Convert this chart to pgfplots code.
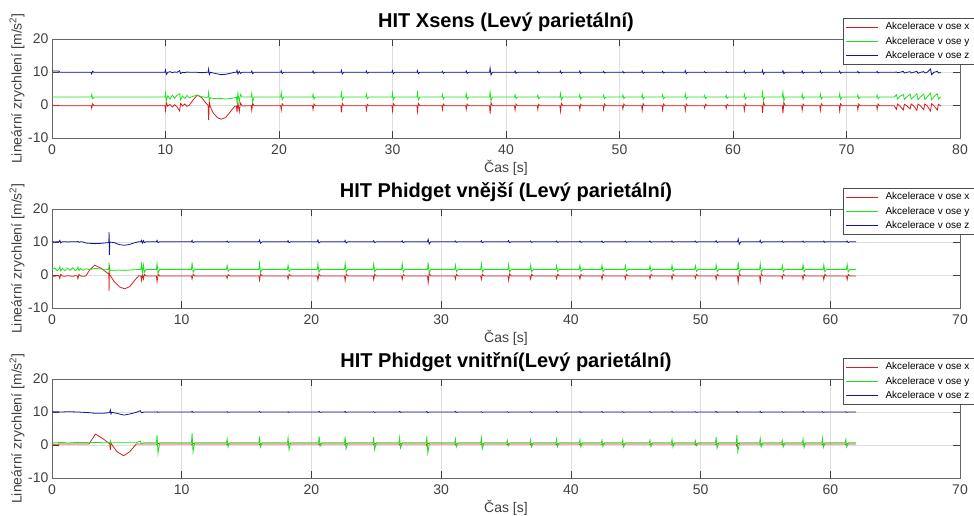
\documentclass[border=0pt]{standalone}
\usepackage{pgfplots}
\usepackage{pgfplotstable}
\pgfplotsset{compat=1.18}
\usepackage{fontspec}
\setmainfont{Liberation Sans}

\definecolor{mred}{RGB}{215,30,30}
\definecolor{mgreen}{RGB}{30,225,30}
\definecolor{mblue}{RGB}{20,20,150}

% HIT Xsens
\pgfplotstableread{
t x y z
0.0 -0.1 2.4 10.3
0.6 -0.2 2.4 10.3
0.7 -0.2 2.4 9.9
3.45 -0.2 2.4 9.9
3.5 -1.0 3.2 9.4
3.58 0.4 1.9 10.2
3.7 -0.2 2.4 9.9
9.95 -0.2 2.4 9.9
10.0 -1.6 3.6 10.6
10.08 0.6 1.4 9.3
10.2 -0.4 2.8 9.9
10.4 0.2 1.8 10.1
10.6 -0.6 3.0 9.8
10.8 0.1 2.0 10.0
11.0 -0.5 2.9 9.9
11.25 -1.8 3.4 10.4
11.33 0.5 1.6 9.5
11.5 -0.3 2.7 9.9
11.7 0.3 2.0 9.8
11.9 -0.4 2.9 10.0
12.1 -0.1 2.2 9.9
12.4 1.4 2.6 9.9
12.8 3.0 3.0 9.9
13.2 2.2 2.5 9.8
13.6 0.4 2.3 9.9
13.75 0.0 2.4 9.9
13.8 -4.6 3.8 10.9
13.86 1.0 1.6 9.2
13.95 -0.5 2.2 9.9
14.2 -2.4 2.0 9.7
14.6 -3.9 1.9 9.4
14.9 -4.3 2.0 9.2
15.3 -3.8 1.8 9.3
15.7 -2.1 2.0 9.6
16.1 -0.4 2.2 9.9
16.25 -0.3 2.4 9.9
16.3 -2.2 0.8 10.5
16.38 0.8 3.5 9.4
16.5 -2.0 1.0 10.2
16.6 0.6 3.2 9.6
16.75 -0.3 2.4 9.9
17.55 -0.2 2.4 9.9
17.6 -1.6 3.5 10.3
17.68 0.5 0.9 9.5
17.8 -0.2 2.4 9.9
20.15 -0.2 2.4 9.9
20.2 -1.5 3.8 10.4
20.28 0.4 1.6 9.5
20.4 -0.2 2.4 9.9
22.95 -0.2 2.4 9.9
23.0 -1.4 3.2 10.3
23.08 0.3 1.8 9.6
23.2 -0.2 2.4 9.9
25.45 -0.2 2.4 9.9
25.5 -2.2 3.6 10.5
25.58 0.5 1.5 9.4
25.7 -0.2 2.4 9.9
27.65 -0.2 2.4 9.9
27.7 -1.5 3.3 10.3
27.78 0.2 1.9 9.6
27.9 -0.2 2.4 9.9
29.95 -0.2 2.4 9.9
30.0 -1.8 3.6 10.4
30.08 0.4 1.6 9.5
30.2 -0.2 2.4 9.9
32.15 -0.2 2.4 9.9
32.2 -2.0 3.7 10.4
32.28 0.5 1.5 9.5
32.4 -0.2 2.4 9.9
34.35 -0.2 2.4 9.9
34.4 -1.4 3.2 10.2
34.48 0.3 1.8 9.6
34.6 -0.2 2.4 9.9
36.45 -0.2 2.4 9.9
36.5 -1.3 3.4 10.3
36.58 0.3 1.7 9.6
36.7 -0.2 2.4 9.9
38.55 -0.2 2.4 9.9
38.6 -2.6 3.9 11.2
38.68 0.7 1.3 9.1
38.8 -0.2 2.4 9.9
40.75 -0.2 2.4 9.9
40.8 -1.5 3.1 10.3
40.88 0.3 1.9 9.6
41.0 -0.2 2.4 9.9
42.75 -0.2 2.4 9.9
42.8 -1.3 3.0 10.2
42.88 0.2 1.9 9.7
43.0 -0.2 2.4 9.9
44.75 -0.2 2.4 9.9
44.8 -1.9 3.5 10.3
44.88 0.5 1.5 9.6
45.0 -0.2 2.4 9.9
46.45 -0.2 2.4 9.9
46.5 -1.4 3.1 10.3
46.58 0.2 1.8 9.6
46.7 -0.2 2.4 9.9
48.55 -0.2 2.4 9.9
48.6 -1.3 3.0 10.2
48.68 0.3 1.9 9.7
48.8 -0.2 2.4 9.9
50.25 -0.2 2.4 9.9
50.3 -1.2 3.0 10.2
50.38 0.3 2.0 9.7
50.5 -0.2 2.4 9.9
51.95 -0.2 2.4 9.9
52.0 -1.6 3.2 10.3
52.08 0.4 1.8 9.6
52.2 -0.2 2.4 9.9
53.75 -0.2 2.4 9.9
53.8 -1.5 3.1 10.2
53.88 0.3 1.9 9.7
54.0 -0.2 2.4 9.9
55.75 -0.2 2.4 9.9
55.8 -1.6 3.3 10.4
55.88 0.3 1.8 9.5
56.0 -0.2 2.4 9.9
57.45 -0.2 2.4 9.9
57.5 -0.9 2.9 10.1
57.58 0.2 2.0 9.8
57.7 -0.2 2.4 9.9
59.35 -0.2 2.4 9.9
59.4 -1.0 2.9 10.1
59.48 0.2 2.0 9.8
59.6 -0.2 2.4 9.9
60.95 -0.2 2.4 9.9
61.0 -1.6 3.2 10.3
61.08 0.3 1.8 9.6
61.2 -0.2 2.4 9.9
62.55 -0.2 2.4 9.9
62.6 -2.4 3.8 10.5
62.68 0.8 1.3 9.4
62.8 -0.2 2.4 9.9
64.35 -0.2 2.4 9.9
64.4 -2.5 3.9 10.4
64.48 0.7 1.2 9.5
64.6 -0.2 2.4 9.9
66.05 -0.2 2.4 9.9
66.1 -1.5 3.2 10.3
66.18 0.3 1.8 9.6
66.3 -0.2 2.4 9.9
67.65 -0.2 2.4 9.9
67.7 -1.6 3.3 10.3
67.78 0.4 1.8 9.6
67.9 -0.2 2.4 9.9
69.35 -0.2 2.4 9.9
69.4 -1.8 3.4 10.3
69.48 0.4 1.7 9.6
69.6 -0.2 2.4 9.9
70.95 -0.2 2.4 9.9
71.0 -1.4 3.1 10.2
71.08 0.3 1.9 9.7
71.2 -0.2 2.4 9.9
72.65 -0.2 2.4 9.9
72.7 -1.3 3.0 10.2
72.78 0.3 1.9 9.7
72.9 -0.2 2.4 9.9
74.2 -0.2 2.4 9.9
74.4 -1.3 3.1 10.0
74.5 0.3 1.8 9.8
74.7 -0.3 2.6 9.9
75.0 -1.5 3.2 10.2
75.1 0.2 1.7 9.7
75.3 -0.2 2.4 9.9
75.6 -1.2 3.3 10.1
75.7 0.3 1.8 9.7
75.9 -0.2 2.4 9.9
76.2 -1.6 3.4 10.2
76.3 0.3 1.6 9.6
76.5 -0.2 2.4 9.9
76.8 -1.4 3.3 10.1
76.9 0.3 1.7 9.7
77.1 -0.2 2.4 9.9
77.4 -1.8 3.6 10.9
77.5 0.4 1.6 9.2
77.7 -0.2 2.5 9.9
78.0 -1.5 3.4 10.2
78.1 0.2 1.8 9.7
78.3 -0.3 2.5 9.9
}\dataA

% HIT Phidget vnejsi
\pgfplotstableread{
t x y z
0.0 -0.3 1.7 10.1
0.2 -0.4 2.1 10.0
0.4 -0.2 1.3 10.1
0.55 -0.3 1.8 10.1
0.6 -1.0 2.5 10.5
0.68 0.2 1.2 9.7
0.8 -0.3 2.0 10.1
1.0 -0.4 1.3 10.1
1.2 -0.2 2.1 10.0
1.4 -0.3 1.4 10.1
1.6 -0.4 2.2 10.1
1.8 -0.2 1.3 10.1
1.95 -0.3 1.8 10.1
2.0 -1.1 2.4 10.2
2.08 0.2 1.3 9.9
2.2 -0.3 2.0 10.1
2.4 -0.4 1.4 10.0
2.6 -0.3 1.9 9.7
2.9 1.5 1.6 9.6
3.3 3.0 2.0 9.5
3.8 2.0 1.8 9.6
4.3 0.5 1.7 9.8
4.38 0.6 1.7 9.9
4.4 -4.9 3.8 13.0
4.42 3.0 0.5 6.0
4.46 0.0 1.5 10.0
4.8 -2.0 1.4 9.8
5.2 -3.6 1.5 9.2
5.6 -4.2 1.4 9.0
6.0 -3.5 1.5 9.3
6.4 -1.5 1.6 9.8
6.7 -0.2 1.7 10.1
6.85 -0.3 1.7 10.1
6.9 -1.6 3.3 10.5
6.97 0.3 0.6 9.7
7.05 -1.2 3.0 10.4
7.12 0.2 0.8 9.8
7.25 -0.3 1.7 10.1
8.05 -0.3 1.7 10.1
8.1 -2.0 3.4 10.5
8.18 0.2 0.5 9.8
8.3 -0.3 1.7 10.1
10.75 -0.3 1.7 10.1
10.8 -1.2 3.8 10.5
10.88 0.2 0.8 9.8
11.0 -0.3 1.7 10.1
13.45 -0.3 1.7 10.1
13.5 -1.0 2.9 10.3
13.58 0.1 1.1 9.9
13.7 -0.3 1.7 10.1
15.95 -0.3 1.7 10.1
16.0 -1.6 3.5 10.6
16.08 0.3 0.7 9.6
16.2 -0.3 1.7 10.1
18.15 -0.3 1.7 10.1
18.2 -1.2 3.0 10.4
18.28 0.2 1.0 9.8
18.4 -0.3 1.7 10.1
20.45 -0.3 1.7 10.1
20.5 -1.5 3.4 10.6
20.58 0.3 0.8 9.7
20.7 -0.3 1.7 10.1
22.55 -0.3 1.7 10.1
22.6 -1.7 3.5 10.5
22.68 0.3 0.8 9.7
22.8 -0.3 1.7 10.1
24.75 -0.3 1.7 10.1
24.8 -1.4 3.3 10.4
24.88 0.2 1.0 9.8
25.0 -0.3 1.7 10.1
26.95 -0.3 1.7 10.1
27.0 -1.3 3.4 10.4
27.08 0.2 0.9 9.8
27.2 -0.3 1.7 10.1
28.95 -0.3 1.7 10.1
29.0 -2.3 3.8 10.8
29.08 0.5 0.6 9.4
29.2 -0.3 1.7 10.1
31.05 -0.3 1.7 10.1
31.1 -1.2 3.0 10.3
31.18 0.2 1.0 9.9
31.3 -0.3 1.7 10.1
33.05 -0.3 1.7 10.1
33.1 -1.3 3.4 10.4
33.18 0.2 0.9 9.8
33.3 -0.3 1.7 10.1
35.15 -0.3 1.7 10.1
35.2 -1.6 3.2 10.4
35.28 0.3 0.9 9.8
35.4 -0.3 1.7 10.1
36.85 -0.3 1.7 10.1
36.9 -1.2 3.0 10.3
36.98 0.2 1.0 9.9
37.1 -0.3 1.7 10.1
38.85 -0.3 1.7 10.1
38.9 -1.1 2.9 10.3
38.98 0.2 1.1 9.9
39.1 -0.3 1.7 10.1
40.65 -0.3 1.7 10.1
40.7 -1.2 2.9 10.3
40.78 0.2 1.1 9.9
40.9 -0.3 1.7 10.1
42.35 -0.3 1.7 10.1
42.4 -1.3 3.0 10.3
42.48 0.2 1.0 9.8
42.6 -0.3 1.7 10.1
44.15 -0.3 1.7 10.1
44.2 -1.2 2.9 10.3
44.28 0.2 1.1 9.9
44.4 -0.3 1.7 10.1
46.05 -0.3 1.7 10.1
46.1 -1.1 2.8 10.3
46.18 0.2 1.1 9.9
46.3 -0.3 1.7 10.1
47.75 -0.3 1.7 10.1
47.8 -1.3 3.0 10.3
47.88 0.2 1.0 9.9
48.0 -0.3 1.7 10.1
49.55 -0.3 1.7 10.1
49.6 -1.0 2.8 10.3
49.68 0.2 1.1 9.9
49.8 -0.3 1.7 10.1
51.15 -0.3 1.7 10.1
51.2 -1.3 3.1 10.4
51.28 0.2 1.0 9.8
51.4 -0.3 1.7 10.1
52.85 -0.3 1.7 10.1
52.9 -2.2 3.9 10.9
52.98 0.4 0.6 9.3
53.1 -0.3 1.7 10.1
54.55 -0.3 1.7 10.1
54.6 -2.0 3.4 10.5
54.68 0.4 0.8 9.7
54.8 -0.3 1.7 10.1
56.25 -0.3 1.7 10.1
56.3 -1.1 2.9 10.3
56.38 0.2 1.0 9.9
56.5 -0.3 1.7 10.1
57.85 -0.3 1.7 10.1
57.9 -1.3 3.2 10.3
57.98 0.2 1.0 9.9
58.1 -0.3 1.7 10.1
59.45 -0.3 1.7 10.1
59.5 -1.4 3.1 10.3
59.58 0.2 1.0 9.9
59.7 -0.3 1.7 10.1
61.25 -0.3 1.7 10.1
61.3 -1.4 3.2 10.3
61.38 0.2 0.9 9.8
61.5 -0.3 1.7 10.1
62.0 -0.3 1.7 10.1
}\dataB

% HIT Phidget vnitrni
\pgfplotstableread{
t x y z
0.0 0.2 0.6 10.1
0.8 0.3 0.8 10.0
1.2 0.3 0.6 10.1
2.0 0.3 0.8 10.0
2.85 0.3 0.7 9.8
3.35 3.3 0.8 9.6
3.9 2.0 0.7 9.6
4.4 0.5 0.7 9.8
4.45 0.5 0.7 9.9
4.5 -1.5 1.3 10.6
4.55 0.6 0.3 9.4
4.6 0.2 0.7 9.9
5.0 -2.0 0.7 9.6
5.5 -3.2 0.7 9.1
5.6 -3.1 0.7 9.1
6.0 -2.0 0.7 9.4
6.5 0.3 0.7 9.9
6.8 0.3 1.2 10.4
6.9 0.3 0.4 9.8
7.1 0.3 0.7 10.0
8.05 0.3 0.7 10.0
8.1 0.1 3.0 10.1
8.17 0.5 -2.5 9.9
8.3 0.3 0.7 10.0
10.75 0.3 0.7 10.0
10.8 0.0 3.6 10.2
10.87 0.5 -2.0 9.9
11.0 0.3 0.7 10.0
13.45 0.3 0.7 10.0
13.5 0.1 1.8 10.1
13.57 0.4 -0.6 9.9
13.7 0.3 0.7 10.0
15.95 0.3 0.7 10.0
16.0 0.1 2.5 10.2
16.07 0.4 -0.6 9.9
16.2 0.3 0.7 10.0
18.15 0.3 0.7 10.0
18.2 0.1 2.2 10.1
18.27 0.4 -1.4 9.9
18.4 0.3 0.7 10.0
20.55 0.3 0.7 10.0
20.6 0.1 2.6 10.2
20.67 0.4 -0.4 9.9
20.8 0.3 0.7 10.0
22.55 0.3 0.7 10.0
22.6 0.0 2.5 10.2
22.67 0.5 -1.2 9.9
22.8 0.3 0.7 10.0
24.75 0.3 0.7 10.0
24.8 0.1 2.4 10.1
24.87 0.5 -1.4 9.9
25.0 0.3 0.7 10.0
26.75 0.3 0.7 10.0
26.8 0.1 2.2 10.2
26.87 0.5 -0.9 9.9
27.0 0.3 0.7 10.0
28.85 0.3 0.7 10.0
28.9 -0.2 2.6 10.2
28.97 0.6 -2.4 9.8
29.1 0.3 0.7 10.0
31.05 0.3 0.7 10.0
31.1 0.1 1.8 10.2
31.17 0.4 -0.6 9.9
31.3 0.3 0.7 10.0
33.05 0.3 0.7 10.0
33.1 0.1 2.2 10.1
33.17 0.4 -1.2 9.9
33.3 0.3 0.7 10.0
35.05 0.3 0.7 10.0
35.1 0.1 1.4 10.1
35.17 0.4 -0.3 9.9
35.3 0.3 0.7 10.0
36.85 0.3 0.7 10.0
36.9 0.1 1.6 10.1
36.97 0.4 -0.6 9.9
37.1 0.3 0.7 10.0
38.85 0.3 0.7 10.0
38.9 0.1 1.8 10.2
38.97 0.4 -0.5 9.9
39.1 0.3 0.7 10.0
40.65 0.3 0.7 10.0
40.7 0.1 1.6 10.1
40.77 0.4 -0.6 9.9
40.9 0.3 0.7 10.0
42.35 0.3 0.7 10.0
42.4 0.1 1.5 10.2
42.47 0.4 -0.4 9.9
42.6 0.3 0.7 10.0
43.95 0.3 0.7 10.0
44.0 0.1 1.6 10.1
44.07 0.4 -0.6 9.9
44.2 0.3 0.7 10.0
46.05 0.3 0.7 10.0
46.1 0.1 1.5 10.1
46.17 0.4 -0.5 9.9
46.3 0.3 0.7 10.0
47.75 0.3 0.7 10.0
47.8 0.1 1.7 10.2
47.87 0.4 -0.6 9.9
48.0 0.3 0.7 10.0
49.55 0.3 0.7 10.0
49.6 0.1 1.3 10.1
49.67 0.4 -0.3 9.9
49.8 0.3 0.7 10.0
51.15 0.3 0.7 10.0
51.2 0.1 2.4 10.2
51.27 0.4 -1.0 9.9
51.4 0.3 0.7 10.0
52.75 0.3 0.7 10.0
52.8 -0.3 3.0 10.2
52.87 0.6 -2.0 9.9
53.0 0.3 0.7 10.0
54.55 0.3 0.7 10.0
54.6 0.1 2.0 10.2
54.67 0.4 -0.6 9.8
54.8 0.3 0.7 10.0
56.25 0.3 0.7 10.0
56.3 0.1 1.4 10.1
56.37 0.4 -0.6 9.9
56.5 0.3 0.7 10.0
57.85 0.3 0.7 10.0
57.9 0.1 1.8 10.2
57.97 0.4 -0.8 9.9
58.1 0.3 0.7 10.0
59.35 0.3 0.7 10.0
59.4 0.1 2.1 10.1
59.47 0.4 -0.7 9.9
59.6 0.3 0.7 10.0
61.15 0.3 0.7 10.0
61.2 0.1 1.7 10.1
61.27 0.4 -0.6 9.9
61.4 0.3 0.7 10.0
62.0 0.3 0.7 10.0
}\dataC

\pgfplotsset{
  panel/.style={
    scale only axis, width=908pt, height=99pt,
    xmin=0, ymin=-10, ymax=20, ytick={-10,0,10,20},
    xtick distance=10,
    grid=major, major grid style={black!13, line width=0.5pt},
    axis line style={black!60, line width=0.6pt},
    tick align=inside, major tick length=7pt,
    tick style={black!75, line width=0.6pt},
    ticklabel style={font=\fontsize{14}{16}\selectfont, text=black!75},
    xticklabel style={yshift=-3pt},
    /pgf/number format/assume math mode=true,
    xlabel={Čas [s]},
    ylabel={Lineární zrychlení [m/s\textsuperscript{2}]},
    every axis title/.style={at={(axis description cs:0.5,1)}, anchor=center, yshift=17pt,
      font=\fontsize{20}{22}\selectfont\bfseries},
    every axis x label/.style={at={(axis description cs:0.5,0)}, anchor=center, yshift=-30pt,
      font=\fontsize{14}{16}\selectfont, text=black!75},
    every axis y label/.style={at={(axis description cs:-0.0385,0.5)}, anchor=center, rotate=90,
      font=\fontsize{14}{16}\selectfont, text=black!75},
    legend style={at={(axis description cs:0.871,1.212)}, anchor=north west,
      draw=black!70, fill=white,
      font=\fontsize{10}{12}\selectfont, inner xsep=3pt, inner ysep=3pt,
      row sep=2.5pt, nodes={inner sep=1.5pt}},
    legend cell align=left,
  },
  sig/.style={line width=0.8pt, draw=#1,
    legend image code/.code={\fill[fill=#1, draw=none] (0pt,-0.5pt) rectangle (32pt,0.5pt);
      \path[draw=none] (38pt,0pt);}},
}

\begin{document}
\begin{tikzpicture}
\useasboundingbox (0,0) rectangle (974pt,515pt);
\clip (0,0) rectangle (974pt,515pt);

\begin{axis}[panel, at={(52pt,377pt)}, anchor=south west, xmax=80,
  title={HIT Xsens (Levý parietální)}]
\addplot[sig=mred] table[x=t, y=x] {\dataA};
\addplot[sig=mgreen] table[x=t, y=y] {\dataA};
\addplot[sig=mblue] table[x=t, y=z] {\dataA};
\legend{Akcelerace v ose x, Akcelerace v ose y, Akcelerace v ose z}
\end{axis}

\begin{axis}[panel, at={(52pt,207pt)}, anchor=south west, xmax=70,
  title={HIT Phidget vnější (Levý parietální)}]
\addplot[sig=mred] table[x=t, y=x] {\dataB};
\addplot[sig=mgreen] table[x=t, y=y] {\dataB};
\addplot[sig=mblue] table[x=t, y=z] {\dataB};
\legend{Akcelerace v ose x, Akcelerace v ose y, Akcelerace v ose z}
\end{axis}

\begin{axis}[panel, at={(52pt,37pt)}, anchor=south west, xmax=70,
  title={HIT Phidget vnitřní(Levý parietální)}]
\addplot[sig=mred] table[x=t, y=x] {\dataC};
\addplot[sig=mgreen] table[x=t, y=y] {\dataC};
\addplot[sig=mblue] table[x=t, y=z] {\dataC};
\legend{Akcelerace v ose x, Akcelerace v ose y, Akcelerace v ose z}
\end{axis}
\end{tikzpicture}
\end{document}
